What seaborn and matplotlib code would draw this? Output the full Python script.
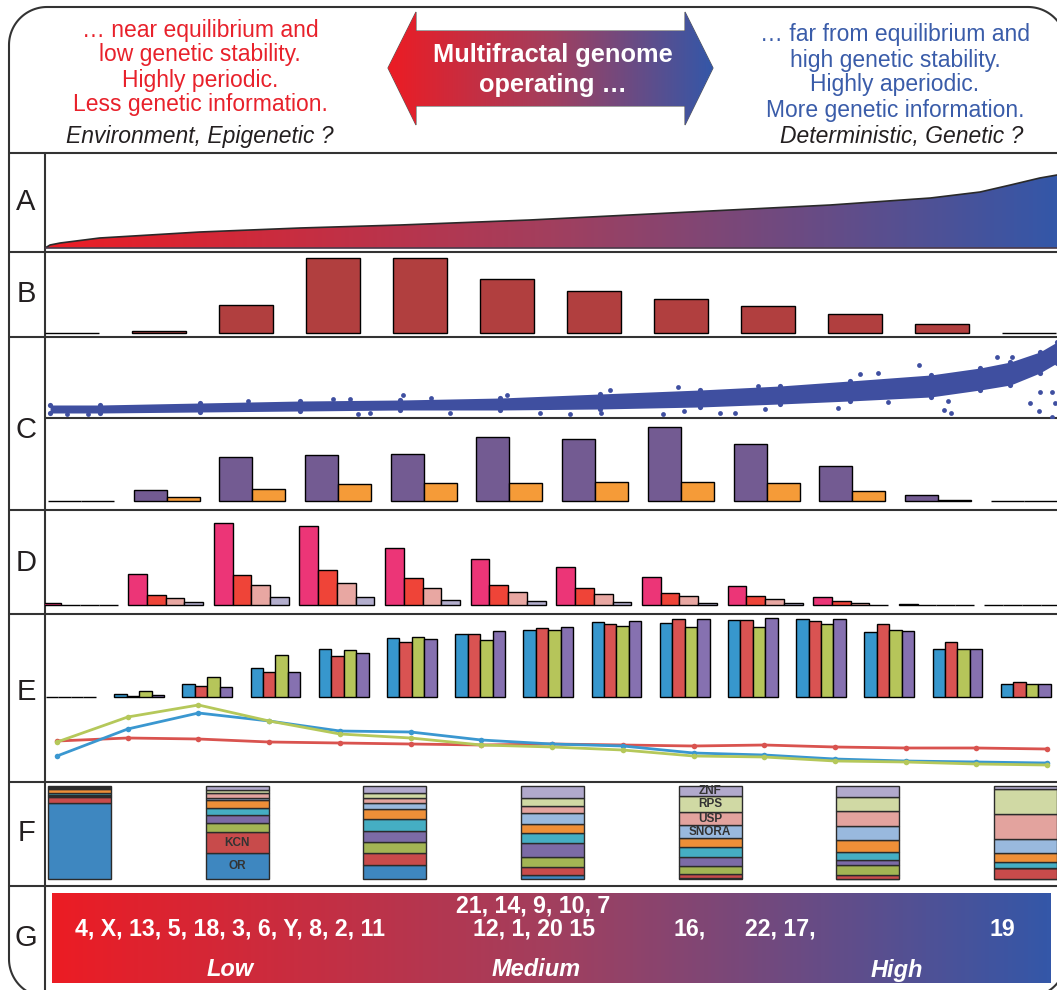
import numpy as np
import pandas as pd
import matplotlib
matplotlib.use("Agg")
import matplotlib.pyplot as plt
import seaborn as sns
from matplotlib.patches import Polygon
from matplotlib.colors import LinearSegmentedColormap

sns.set_theme(style="white")
plt.rcParams['font.family'] = ['Liberation Sans', 'DejaVu Sans']

W, H = 1057, 990

# ---------------- data ----------------
# A: genome-wide stability profile (position %, height)
a_pos = [0, 0.5, 1.5, 5.4, 15.3, 25.2, 35.1, 47.9, 57.8, 67.7, 77.6, 87.5, 92.4, 95.4, 98.3, 100]
a_val = [0, 3, 5, 10, 16, 20, 23, 28, 33, 38, 43, 50, 56, 63, 70, 73]

bins12 = list(range(12))
# B: distribution per bin
b_vals = [0, 2, 28, 75, 75.5, 54, 42, 34, 27, 19, 9, 0]

# C (top): dense band of per-window values plus isolated points
c_band_pos = [0.5, 5.4, 15.3, 25.2, 35.1, 45.0, 54.8, 64.7, 72.6, 79.5, 87.5, 92.4, 95.4, 98.3, 100]
c_band_hi = [13, 13, 15, 17, 18, 20, 24, 28, 32, 37, 43, 50, 56, 66, 76]
c_band_lo = [5, 5, 6, 7, 8, 8, 9, 11, 14, 17, 21, 28, 33, 45, 55]
c_pts_pos = [2.2, 4.2, 20.1, 28.5, 30.1, 30.9, 32.1, 35.4, 38.1, 40.0, 45.7, 48.9, 51.9,
             54.9, 55.8, 61.1, 62.5, 63.1, 66.7, 68.2, 70.5, 71.1, 78.4, 80.5, 82.3, 83.3,
             86.4, 88.8, 89.2, 89.5, 94.1, 95.6, 97.3, 98.2, 98.3, 99.5, 99.8, 99.5]
c_pts_val = [4, 4, 17, 19, 19, 4, 5, 23, 20, 5, 23, 5, 4,
             5, 28, 4, 31, 7, 5, 5, 32, 9, 10, 44, 45, 16,
             53, 8, 17, 5, 61, 61, 15, 7, 26, 26, 15, 1]

# C (bottom): two series per bin
c_purple = [0, 11, 44, 46, 47, 64, 62, 74, 57, 35, 6, 0]
c_orange = [0, 4, 12, 17, 18, 18, 19, 19, 18, 10, 1, 0]

# D: four series per bin
d_pink = [2, 31, 82, 79, 57, 46, 38, 28, 19, 8, 1, 0]
d_red = [0.5, 10, 30, 35, 27, 20, 17, 12, 9, 4, 0, 0]
d_light = [0, 7, 20, 22, 17, 13, 11, 9, 6, 2, 0, 0]
d_lav = [0, 3, 8, 8, 5, 4, 3, 2, 2, 0.5, 0, 0]

# E: four series over 15 bins, plus three trend lines
bins15 = list(range(15))
e_blue = [0, 3, 13, 29, 48, 59, 63, 67, 75, 74, 77, 78, 65, 48, 13]
e_red = [0, 1, 11, 25, 41, 55, 63, 69, 73, 78, 77, 76, 73, 55, 15]
e_olive = [0, 6, 20, 42, 47, 60, 57, 67, 71, 70, 70, 73, 67, 48, 13]
e_purple = [0, 2, 10, 25, 44, 58, 66, 70, 76, 78, 79, 78, 66, 48, 13]
line_red = [41, 44, 43, 40, 39, 38, 37, 38, 37, 36, 37, 35, 34, 34, 33]
line_blue = [26, 53, 69, 61, 51, 50, 42, 38, 36, 29, 27, 23, 21, 20, 19]
line_olive = [40, 65, 77, 61, 48, 44, 37, 35, 32, 26, 25, 21, 20, 18, 17]

# F: gene family composition (%) of seven groups, listed top to bottom
families = ['ZNF', 'RPS', 'USP', 'SNORA', 'orange', 'teal', 'purple', 'olive', 'KCN', 'OR']
fam_colors = ['#b1a9cc', '#d0d9a4', '#e3a39e', '#99b9de', '#ee8f38', '#45aec3',
              '#7c6ba6', '#a3b554', '#c84b4b', '#3e87c0']
f_groups = list(range(7))
f_ZNF = [1.5, 4.5, 7.5, 13, 11, 12, 3]
f_RPS = [0.5, 2.5, 5.5, 8.5, 17, 15, 27]
f_USP = [0.5, 5.5, 5.5, 7.5, 14, 16, 27]
f_SNORA = [0.5, 3, 6.5, 12, 14, 15, 15]
f_orange = [4.5, 8.5, 10.5, 10, 10, 13, 9.5]
f_teal = [2, 7.5, 12.5, 10, 10, 8.5, 6.5]
f_purple = [1, 8.5, 12, 15, 10, 5.5, 0]
f_olive = [1.5, 9.5, 12.5, 11, 8.5, 11, 0]
f_KCN = [6.5, 22.5, 12.5, 8.5, 4.5, 4, 12]
f_OR = [81.5, 28, 15, 4.5, 1, 0, 0]

# G: chromosome groups
g_low = "4, X, 13, 5, 18, 3, 6, Y, 8, 2, 11"
g_med_top = "21, 14, 9, 10, 7"
g_med = "12, 1, 20 15"
g_high_a = "16,"
g_high_b = "22, 17,"
g_high_c = "19"

RED_TXT = '#e8212b'
BLUE_TXT = '#3a5ca9'
DARK = '#231f20'
LINE = '#333333'

grad = LinearSegmentedColormap.from_list('stab', ['#ec1c24', '#a23f5e', '#3457a8'])

fig = plt.figure(figsize=(W / 100, H / 100), dpi=100)


def px_axes(x0, y0, x1, y1):
    ax = fig.add_axes([x0 / W, 1 - y1 / H, (x1 - x0) / W, (y1 - y0) / H])
    return ax


def rounded_outline(x0, y0, x1, y1, r):
    """Outline of a rounded rectangle in downward-y pixel coordinates."""
    pts = []
    corners = [((x1 - r, y0 + r), -90, 0), ((x1 - r, y1 - r), 0, 90),
               ((x0 + r, y1 - r), 90, 180), ((x0 + r, y0 + r), 180, 270)]
    for (cx, cy), a0, a1 in corners:
        th = np.radians(np.linspace(a0, a1, 30))
        pts.extend(zip(cx + r * np.cos(th), cy + r * np.sin(th)))
    pts.append(pts[0])
    return np.array(pts)


# ---------------- frame, grid lines, header, row labels ----------------
ov = fig.add_axes([0, 0, 1, 1])
ov.axis('off')

frame = rounded_outline(9, 7, 1066, 997, 38)
ov.plot(frame[:, 0], frame[:, 1], color=LINE, lw=1.5)
for yy in [153, 252, 337, 510, 614, 782, 886]:
    ov.plot([9, 1066], [yy, yy], color=LINE, lw=1.5)
ov.plot([45, 1057], [418, 418], color=LINE, lw=1.5)
ov.plot([45, 45], [153, 997], color=LINE, lw=1.5)

# double-headed gradient arrow
arrow_pts = [(388, 68), (416, 12), (416, 31), (685, 31), (685, 12), (713, 68),
             (685, 125), (685, 106), (416, 106), (416, 125)]
arrow = Polygon(arrow_pts, closed=True, fc='none', ec='#555555', lw=0.8)
ov.add_patch(arrow)
im = ov.imshow(np.linspace(0, 1, 256)[None, :], cmap=grad, extent=(388, 713, 125, 12),
               aspect='auto', zorder=1)
im.set_clip_path(arrow)
ov.text(553, 55, 'Multifractal genome', ha='center', va='center', color='white',
        fontsize=18.3, fontweight='bold', zorder=3)
ov.text(553, 85, 'operating …', ha='center', va='center', color='white',
        fontsize=18.3, fontweight='bold', zorder=3)

left_lines = ['… near equilibrium and', 'low genetic stability.', 'Highly periodic.',
              'Less genetic information.']
right_lines = ['… far from equilibrium and', 'high genetic stability.', 'Highly aperiodic.',
               'More genetic information.']
for i, t in enumerate(left_lines):
    ov.text(200, 30 + 25 * i, t, ha='center', va='center', color=RED_TXT, fontsize=16.5)
for i, t in enumerate(right_lines):
    ov.text(895, 35 + 25 * i, t, ha='center', va='center', color=BLUE_TXT, fontsize=16.5)
ov.text(200, 137, 'Environment, Epigenetic ?', ha='center', va='center', color=DARK,
        fontsize=16.5, style='italic')
ov.text(902, 137, 'Deterministic, Genetic ?', ha='center', va='center', color=DARK,
        fontsize=16.5, style='italic')

for lab, yy in zip('ABCDEFG', [202, 294, 430, 563, 692, 833, 938]):
    ov.text(26, yy, lab, ha='center', va='center', color=DARK, fontsize=21)
ov.set_xlim(0, W)
ov.set_ylim(H, 0)

# ---------------- A ----------------
axA = px_axes(45, 153, 1057, 252)
poly_pts = list(zip(a_pos, a_val)) + [(100, 0), (0, 0)]
shape = Polygon(poly_pts, closed=True, fc='none', ec='none')
axA.add_patch(shape)
imA = axA.imshow(np.linspace(0, 1, 256)[None, :], cmap=grad, extent=(0, 100, 0, 80),
                 aspect='auto')
imA.set_clip_path(shape)
sns.lineplot(x=a_pos, y=a_val, color='#2a2a2a', lw=1.2, ax=axA)
axA.plot([0, 100], [0, 0], color='#4a3a4a', lw=1.2)
axA.set_xlim(0, 100)
axA.set_ylim(-4, 95)
axA.axis('off')

# ---------------- B ----------------
axB = px_axes(45, 252, 1057, 337)
sns.barplot(x=bins12, y=b_vals, color='#b13f3f', saturation=1, width=0.62,
            edgecolor='black', linewidth=1.0, ax=axB)
axB.set_xlim(-0.31, 11.32)
axB.set_ylim(-4, 81)
axB.axis('off')

# ---------------- C ----------------
axC1 = px_axes(45, 337, 1057, 418)
axC1.fill_between(c_band_pos, c_band_lo, c_band_hi, color='#3f4fa0', lw=0)
sns.scatterplot(x=c_band_pos, y=c_band_hi, s=14, color='#3f4fa0', linewidth=0, ax=axC1)
sns.scatterplot(x=c_band_pos, y=c_band_lo, s=14, color='#3f4fa0', linewidth=0, ax=axC1)
sns.scatterplot(x=c_pts_pos, y=c_pts_val, s=12, color='#3f4fa0', linewidth=0, ax=axC1)
axC1.set_xlim(0, 100)
axC1.set_ylim(0, 81)
axC1.axis('off')

axC2 = px_axes(45, 418, 1057, 510)
dfC = pd.DataFrame({'bin': bins12 * 2,
                    'set': ['s1'] * 12 + ['s2'] * 12,
                    'val': c_purple + c_orange})
sns.barplot(data=dfC, x='bin', y='val', hue='set', palette=['#735b92', '#f59b38'],
            saturation=1, width=0.77, edgecolor='black', linewidth=1.0, legend=False, ax=axC2)
axC2.set_xlim(-0.42, 11.39)
axC2.set_ylim(-9, 83)
axC2.axis('off')

# ---------------- D ----------------
axD = px_axes(45, 510, 1057, 614)
dfD = pd.DataFrame({'bin': bins12 * 4,
                    'set': ['d1'] * 12 + ['d2'] * 12 + ['d3'] * 12 + ['d4'] * 12,
                    'val': d_pink + d_red + d_light + d_lav})
sns.barplot(data=dfD, x='bin', y='val', hue='set',
            palette=['#ec3577', '#ef4438', '#e8a7a2', '#b3aecd'],
            saturation=1, width=0.875, edgecolor='black', linewidth=1.0, legend=False, ax=axD)
axD.set_xlim(-0.41, 11.41)
axD.set_ylim(-9, 95)
axD.axis('off')

# ---------------- E ----------------
axE = px_axes(45, 614, 1057, 782)
dfE = pd.DataFrame({'bin': bins15 * 4,
                    'set': ['e1'] * 15 + ['e2'] * 15 + ['e3'] * 15 + ['e4'] * 15,
                    'val': e_blue + e_red + e_olive + e_purple})
sns.barplot(data=dfE, x='bin', y='val', hue='set',
            palette=['#3797cd', '#d95352', '#b6c55a', '#8671b0'],
            saturation=1, width=0.73, edgecolor='black', linewidth=1.0, legend=False, ax=axE)
axE.set_xlim(-0.38, 14.46)
axE.set_ylim(-85, 83)
axE.axis('off')

axL = px_axes(45, 614, 1057, 782)
dfL = pd.DataFrame({'pt': bins15 * 3,
                    'series': ['red'] * 15 + ['blue'] * 15 + ['olive'] * 15,
                    'val': line_red + line_blue + line_olive})
sns.lineplot(data=dfL, x='pt', y='val', hue='series',
             palette={'red': '#d9534f', 'blue': '#3a97d0', 'olive': '#b5c85a'},
             marker='o', markersize=4, markeredgewidth=0, linewidth=2.0, legend=False, ax=axL)
axL.set_xlim(-0.17, 14.14)
axL.set_ylim(0, 168)
axL.axis('off')

# ---------------- F ----------------
axF = px_axes(45, 782, 1057, 886)
f_cols = [f_ZNF, f_RPS, f_USP, f_SNORA, f_orange, f_teal, f_purple, f_olive, f_KCN, f_OR]
dfF = pd.DataFrame({'grp': f_groups * len(families),
                    'family': [fam for fam in families for _ in f_groups],
                    'pct': [v for col in f_cols for v in col]})
sns.histplot(data=dfF, x='grp', weights='pct', hue='family', hue_order=families,
             palette=fam_colors, multiple='stack', discrete=True, shrink=0.4, alpha=1,
             edgecolor='#2b2b2b', linewidth=1.0, legend=False, ax=axF)
axF.set_xlim(-0.22, 6.2)
axF.set_ylim(-7.5, 104.3)
axF.axis('off')

# labels inside two of the stacks
bottom_up = families[::-1]
cols_bottom_up = f_cols[::-1]


def seg_mid(group, fam):
    k = bottom_up.index(fam)
    below = sum(c[group] for c in cols_bottom_up[:k])
    return below + cols_bottom_up[k][group] / 2


for fam in ['OR', 'KCN']:
    axF.text(1, seg_mid(1, fam), fam, ha='center', va='center', fontsize=8.5,
             fontweight='bold', color='#333333')
for fam in ['ZNF', 'RPS', 'USP', 'SNORA']:
    axF.text(4, seg_mid(4, fam), fam, ha='center', va='center', fontsize=8.5,
             fontweight='bold', color='#333333')

# ---------------- G ----------------
axG = px_axes(52, 893, 1051, 983)
axG.imshow(np.linspace(0, 1, 256)[None, :], cmap=grad, extent=(0, 1, 0, 1), aspect='auto')
axG.set_xlim(0, 1)
axG.set_ylim(0, 1)
axG.axis('off')

top = fig.add_axes([0, 0, 1, 1])
top.set_xlim(0, W)
top.set_ylim(H, 0)
top.axis('off')
gkw = dict(ha='center', va='center', color='white', fontsize=16.7, fontweight='bold')
top.text(230, 929, g_low, **gkw)
top.text(533, 906, g_med_top, **gkw)
top.text(534, 929, g_med, **gkw)
top.text(690, 929, g_high_a, **gkw)
top.text(780, 929, g_high_b, **gkw)
top.text(1002, 929, g_high_c, **gkw)
ikw = dict(ha='center', va='center', color='white', fontsize=17, fontweight='bold',
           style='italic')
top.text(230, 970, 'Low', **ikw)
top.text(536, 970, 'Medium', **ikw)
top.text(897, 970, 'High', **ikw)

fig.savefig('out.png', dpi=100)
